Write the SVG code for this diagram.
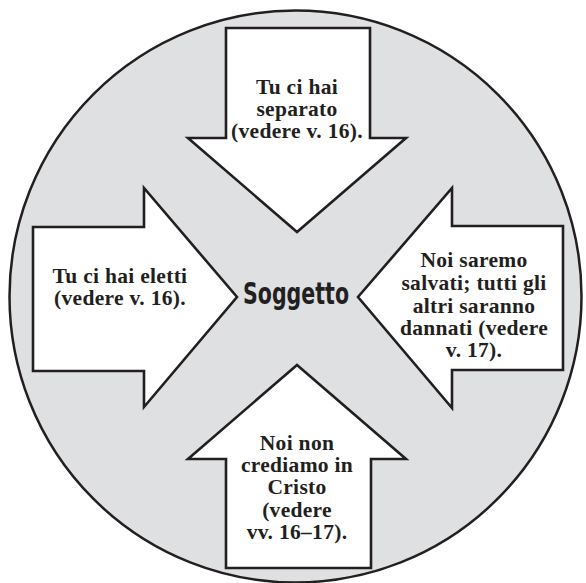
<svg xmlns="http://www.w3.org/2000/svg" width="586" height="583" viewBox="0 0 586 583">
<style>
.bg{fill:#dfe0e2;stroke:#231f20;stroke-width:2.5}
.arrow{fill:#ffffff;stroke:#231f20;stroke-width:2.6;stroke-linejoin:miter}
.t{font-family:"Liberation Serif","Times New Roman",serif;font-weight:bold;font-size:21.5px;letter-spacing:0.3px;fill:#231f20;text-anchor:middle}
.c{font-family:"DejaVu Sans Condensed","Liberation Sans Narrow","Liberation Sans",sans-serif;font-stretch:condensed;font-weight:bold;font-size:31px;fill:#231f20;text-anchor:middle}
</style>
<g id="background">
<circle class="bg" cx="295.5" cy="296.5" r="286"/>
</g>
<g id="connectors"></g>
<g id="arrow-top">
<path class="arrow" d="M226,28 H370 V138 H406 L297,232 L188,138 H226 Z"/>
<text class="t" x="297" y="94">Tu ci hai</text>
<text class="t" x="297" y="116">separato</text>
<text class="t" x="297" y="138">(vedere v. 16).</text>
</g>
<g id="arrow-left">
<path class="arrow" d="M33,227 H144 V188 L237,297 L144,407 V371 H33 Z"/>
<text class="t" x="120" y="283">Tu ci hai eletti</text>
<text class="t" x="120" y="305">(vedere v. 16).</text>
</g>
<g id="arrow-right">
<path class="arrow" d="M563,226 H452 V188 L358,297 L452,408 V370 H563 Z"/>
<text class="t" x="474" y="267">Noi saremo</text>
<text class="t" x="474" y="290">salvati; tutti gli</text>
<text class="t" x="474" y="312.5">altri saranno</text>
<text class="t" x="474" y="335">dannati (vedere</text>
<text class="t" x="474" y="357">v. 17).</text>
</g>
<g id="arrow-bottom">
<path class="arrow" d="M226,568 H371 V459 H406 L297,365 L188,459 H226 Z"/>
<text class="t" x="297" y="449.5">Noi non</text>
<text class="t" x="297" y="472">crediamo in</text>
<text class="t" x="297" y="494">Cristo</text>
<text class="t" x="297" y="516.5">(vedere</text>
<text class="t" x="297" y="539">vv. 16–17).</text>
</g>
<g id="center">
<text class="c" x="296" y="304" textLength="106" lengthAdjust="spacingAndGlyphs">Soggetto</text>
</g>
</svg>
